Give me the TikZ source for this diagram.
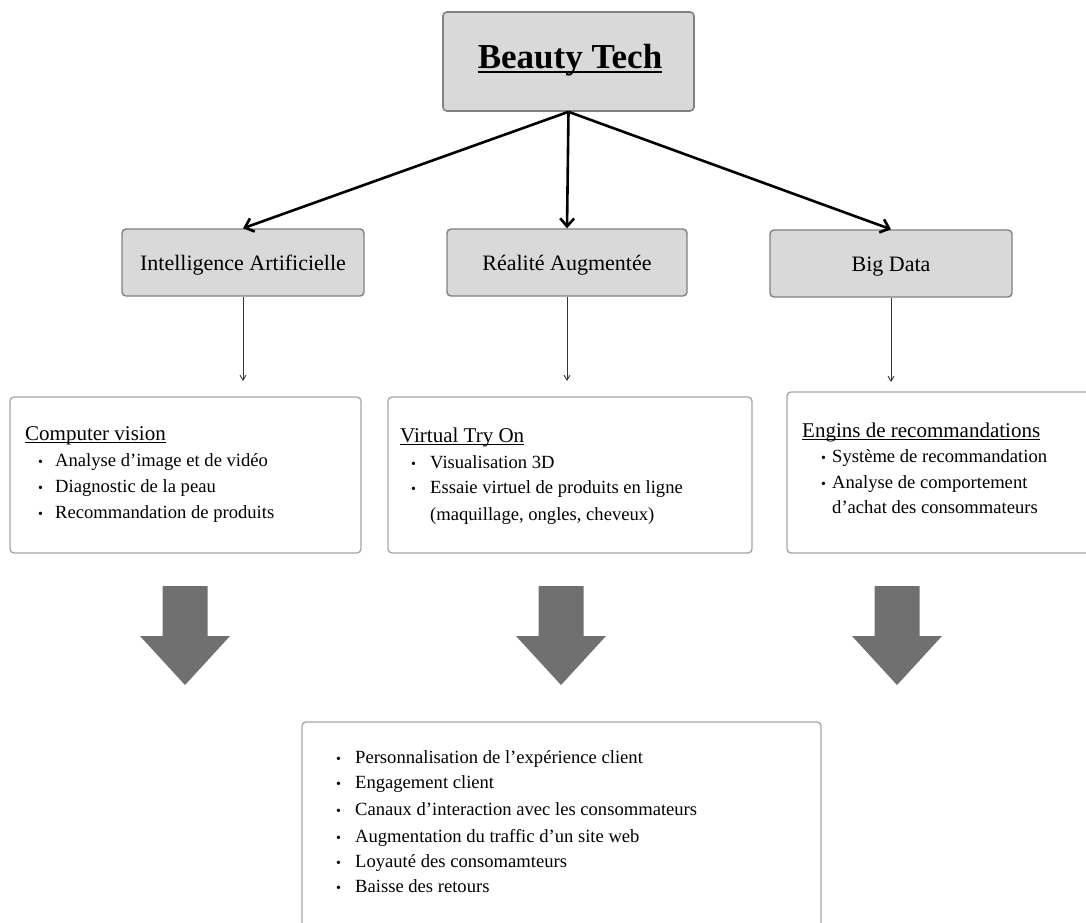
\documentclass[tikz,border=0pt]{standalone}
\usepackage{fontspec}
\setmainfont{Liberation Serif}
\usetikzlibrary{arrows.meta}
\definecolor{catfill}{RGB}{217,217,217}
\definecolor{catdraw}{RGB}{128,128,128}
\definecolor{boxdraw}{RGB}{165,165,165}
\definecolor{bigarrow}{RGB}{112,112,112}
\begin{document}
\begin{tikzpicture}[x=1pt,y=-1pt,
 titlebox/.style={draw=catdraw, fill=catfill, line width=1.6pt, rounded corners=4pt, inner sep=0pt},
 catbox/.style={draw=catdraw, fill=catfill, line width=1.4pt, rounded corners=4pt, inner sep=0pt, minimum height=67pt},
 contentbox/.style={draw=boxdraw, fill=white, line width=1.3pt, rounded corners=4pt, inner sep=0pt},
 titletext/.style={font=\fontsize{35}{40}\selectfont\bfseries, anchor=base, inner sep=0pt},
 cattext/.style={font=\fontsize{22}{26}\selectfont, anchor=base, inner sep=0pt},
 headtext/.style={font=\fontsize{21}{25}\selectfont, anchor=base west, inner sep=0pt},
 itemtext/.style={font=\fontsize{18.6}{23}\selectfont, anchor=base west, inner sep=0pt},
 bul/.style={font=\fontsize{14}{16}\selectfont, anchor=base west, inner sep=0pt},
 thickul/.style={line width=2.6pt},
 thinul/.style={line width=1pt},
 mainlink/.style={line width=2.6pt, -{Straight Barb[length=8pt,width=14pt,line width=2.6pt]}},
 sublink/.style={line width=0.9pt, draw=black!80, -{Straight Barb[length=5pt,width=6pt]}},
 blockarrow/.style={fill=bigarrow}]

\clip (0,0) rectangle (1086,922);
\fill[white] (0,0) rectangle (1086,922);

% title
\node[titlebox, minimum width=251pt, minimum height=99pt] (bt) at (568.5,61.5) {};
\node[titletext] (btt) at (570,68) {Beauty Tech};
\draw[thickul] ([yshift=-4pt]btt.base west) -- ([yshift=-4pt]btt.base east);

% categories
\node[catbox, minimum width=242pt] (ia) at (243,262.5) {};
\node[cattext] (iat) at (243,270) {Intelligence Artificielle};
\node[catbox, minimum width=240pt] (ra) at (567,262.5) {};
\node[cattext] (rat) at (567,270) {Réalité Augmentée};
\node[catbox, minimum width=242pt] (bd) at (891,263.5) {};
\node[cattext] (bdt) at (891,271) {Big Data};

% main links
\draw[mainlink] (bt.south) -- (ia.north);
\draw[mainlink] (bt.south) -- (ra.north);
\draw[mainlink] (bt.south) -- (bd.north);

% sub links
\coordinate (iaend) at (243,381);
\coordinate (raend) at (567,381);
\coordinate (bdend) at (891,382);
\draw[sublink] (ia.south) -- (iaend);
\draw[sublink] (ra.south) -- (raend);
\draw[sublink] (bd.south) -- (bdend);

% content boxes
\node[contentbox, minimum width=351pt, minimum height=156pt] (cv) at (185.5,475) {};
\node[headtext] (cvh) at (25,440) {Computer vision};
\draw[thinul] ([yshift=-2.5pt]cvh.base west) -- ([yshift=-2.5pt]cvh.base east);
\node[bul] (cvb1) at (38,466) {\textbullet};
\node[itemtext] (cv1) at (55,466) {Analyse d’image et de vidéo};
\node[bul] (cvb2) at (38,492) {\textbullet};
\node[itemtext] (cv2) at (55,492) {Diagnostic de la peau};
\node[bul] (cvb3) at (38,518) {\textbullet};
\node[itemtext] (cv3) at (55,518) {Recommandation de produits};

\node[contentbox, minimum width=364pt, minimum height=156pt] (vt) at (570,475) {};
\node[headtext] (vth) at (400,442) {Virtual Try On};
\draw[thinul] ([yshift=-2.5pt]vth.base west) -- ([yshift=-2.5pt]vth.base east);
\node[bul] (vtb1) at (411,468) {\textbullet};
\node[itemtext] (vt1) at (430,468) {Visualisation 3D};
\node[bul] (vtb2) at (411,493) {\textbullet};
\node[itemtext] (vt2) at (430,493) {Essaie virtuel de produits en ligne};
\node[itemtext] (vt3) at (430,520) {(maquillage, ongles, cheveux)};

\node[contentbox, minimum width=308pt, minimum height=161pt] (ec) at (941,472.5) {};
\node[headtext] (ech) at (802,437) {Engins de recommandations};
\draw[thinul] ([yshift=-2.5pt]ech.base west) -- ([yshift=-2.5pt]ech.base east);
\node[bul] (ecb1) at (821,462) {\textbullet};
\node[itemtext] (ec1) at (832,462) {Système de recommandation};
\node[bul] (ecb2) at (821,488) {\textbullet};
\node[itemtext] (ec2) at (832,488) {Analyse de comportement};
\node[itemtext] (ec3) at (832,513) {d’achat des consommateurs};

% block arrows
\foreach \cx in {185,561,897}{
  \fill[blockarrow] (\cx-22.5,586) -- (\cx+22.5,586) -- (\cx+22.5,636) -- (\cx+45,636)
     -- (\cx,685) -- (\cx-45,636) -- (\cx-22.5,636) -- cycle;
}

% outcome box
\node[contentbox, minimum width=519pt, minimum height=218pt] (out) at (561.5,831) {};
\node[bul] (ob1) at (336,763) {\textbullet};
\node[itemtext] (o1) at (355,763) {Personnalisation de l’expérience client};
\node[bul] (ob2) at (336,788) {\textbullet};
\node[itemtext] (o2) at (355,788) {Engagement client};
\node[bul] (ob3) at (336,815) {\textbullet};
\node[itemtext] (o3) at (355,815) {Canaux d’interaction avec les consommateurs};
\node[bul] (ob4) at (336,842) {\textbullet};
\node[itemtext] (o4) at (355,842) {Augmentation du traffic d’un site web};
\node[bul] (ob5) at (336,867) {\textbullet};
\node[itemtext] (o5) at (355,867) {Loyauté des consomamteurs};
\node[bul] (ob6) at (336,892) {\textbullet};
\node[itemtext] (o6) at (355,892) {Baisse des retours};
\end{tikzpicture}
\end{document}
